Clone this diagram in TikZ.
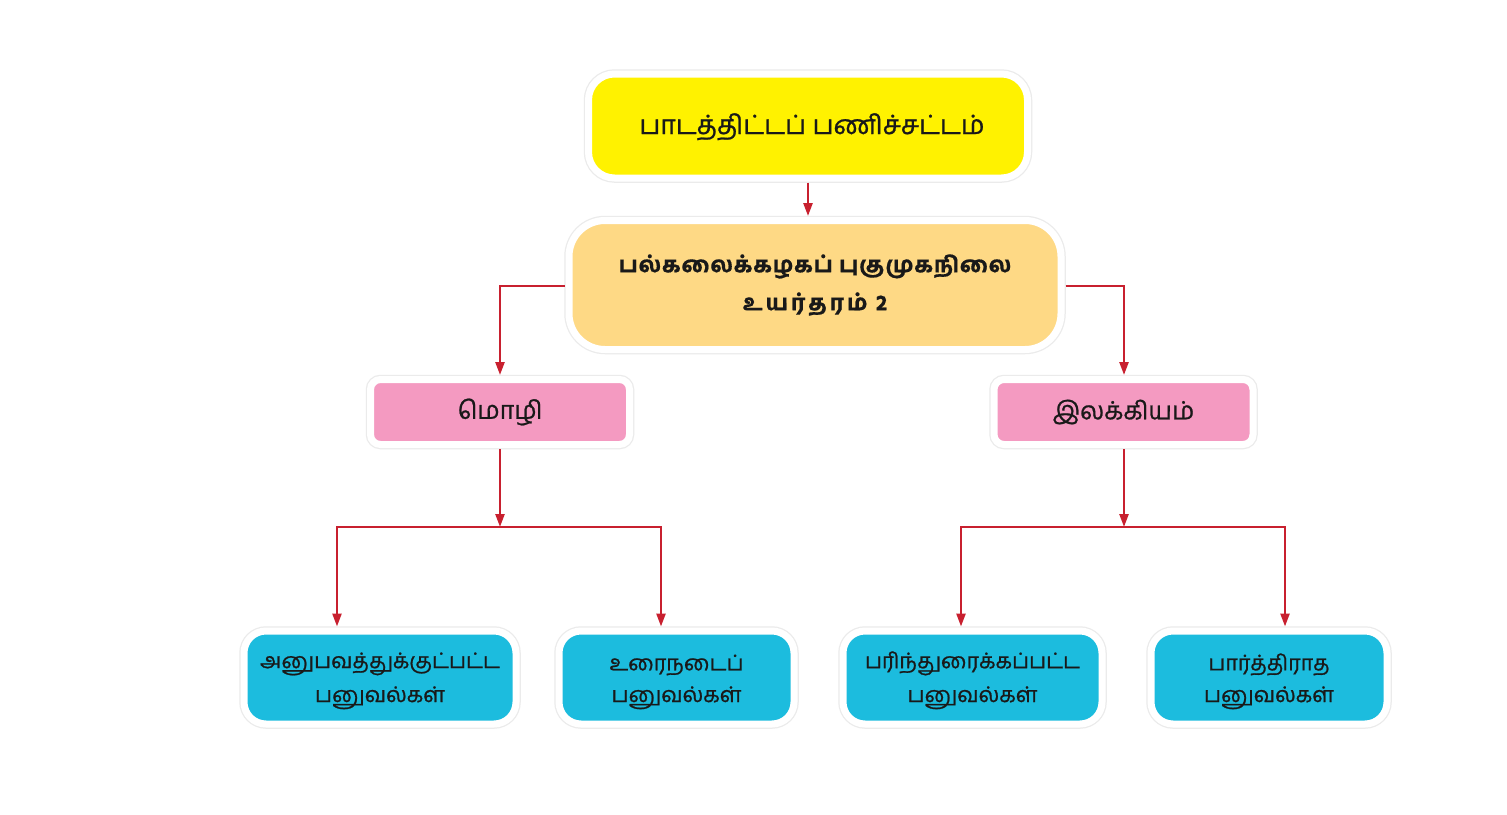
\documentclass[tikz,border=0pt]{standalone}
\usepackage{fontspec}
\newfontfamily\tamil[Script=Tamil,UprightFeatures={FakeBold=0.9}]{Hind Madurai}
\newfontfamily\tamilb[Script=Tamil,UprightFeatures={FakeBold=0.6},LetterSpace=4]{Hind Madurai Bold}
\usetikzlibrary{arrows.meta,calc}
\definecolor{cyel}{HTML}{FFF200}
\definecolor{corg}{HTML}{FED985}
\definecolor{cpnk}{HTML}{F49AC1}
\definecolor{cblu}{HTML}{1CBCDE}
\definecolor{cred}{HTML}{C8202F}
\tikzset{
  card/.style={rounded corners=#1, draw=white, line width=7pt, outer sep=4.5pt,
     preaction={draw=black!8, line width=9.5pt}, align=center, text=black!90, inner sep=0pt},
  arr/.style={draw=cred, line width=2.4pt, -{Triangle[length=13pt,width=9pt]}},
  ln/.style={draw=cred, line width=2.4pt},
}
\newcommand\twolines[2]{\raisebox{-24.5pt}[0pt][0pt]{\shortstack{#1\\[8pt]#2}}}
\begin{document}
\begin{tikzpicture}[x=1pt,y=-1pt]
\useasboundingbox[fill=white] (0,0) rectangle (1507,814);
% boxes
\node[card=26pt, fill=cyel, minimum width=439pt, minimum height=104pt,
      font=\tamil\fontsize{26.5}{32}\selectfont, text depth=6pt, text height=22pt] (top) at (808,126) {\hspace*{8pt}பாடத்திட்டப் பணிச்சட்டம்};
\node[card=36pt, fill=corg, minimum width=492pt, minimum height=129pt,
      font=\tamilb\fontsize{22}{38}\selectfont] (mid) at (815,285)
      {பல்கலைக்கழகப் புகுமுகநிலை\\{\addfontfeature{LetterSpace=14}உயர்தரம் 2}};
\node[card=10pt, fill=cpnk, minimum width=259pt, minimum height=65pt,
      font=\tamil\fontsize{25}{32}\selectfont] (mozhi) at (500,412) {மொழி};
\node[card=10pt, fill=cpnk, minimum width=259pt, minimum height=65pt,
      font=\tamil\fontsize{25}{32}\selectfont] (ilak) at (1123.5,412) {இலக்கியம்};
\tikzset{bcard/.style={card=22pt, fill=cblu, minimum height=93pt,
      font=\tamil\fontsize{21.5}{32}\selectfont}}
\node[bcard, minimum width=272pt] (b1) at (380,677.5) {\twolines{அனுபவத்துக்குட்பட்ட}{பனுவல்கள்}};
\node[bcard, minimum width=235pt] (b2) at (676.5,677.5) {\twolines{உரைநடைப்}{பனுவல்கள்}};
\node[bcard, minimum width=259pt] (b3) at (972.5,677.5) {\twolines{பரிந்துரைக்கப்பட்ட}{பனுவல்கள்}};
\node[bcard, minimum width=236pt] (b4) at (1269,677.5) {\twolines{பார்த்திராத}{பனுவல்கள்}};
% connectors
\draw[arr] (top.south -| 808,0) -- (mid.north -| 808,0);
\coordinate (ml) at (500,286);
\coordinate (mr) at (1124,286);
\draw[arr] (mid.west |- ml) -- (ml) -- (mozhi.north);
\draw[arr] (mid.east |- mr) -- (mr) -- (mr |- ilak.north);
\coordinate (jl) at (500,527);
\coordinate (jr) at (1124,527);
\draw[arr] (mozhi.south) -- (jl);
\draw[arr] (jr |- ilak.south) -- (jr);
\coordinate (h1) at (337,527);
\coordinate (h2) at (661,527);
\coordinate (h3) at (961,527);
\coordinate (h4) at (1285,527);
\draw[ln, line cap=rect] (h1) -- (h2);
\draw[ln, line cap=rect] (h3) -- (h4);
\draw[arr] (h1) -- (h1 |- b1.north);
\draw[arr] (h2) -- (h2 |- b2.north);
\draw[arr] (h3) -- (h3 |- b3.north);
\draw[arr] (h4) -- (h4 |- b4.north);
\end{tikzpicture}
\end{document}
